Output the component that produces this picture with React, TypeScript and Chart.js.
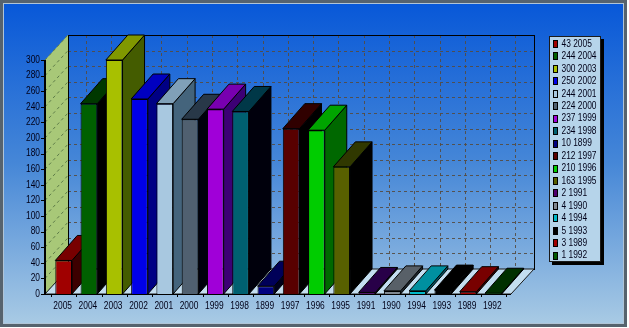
import React, { useEffect, useRef } from "react";
import { Chart, registerables } from "chart.js";

Chart.register(...registerables);

// ---- data ----
const categories = ["2005", "2004", "2003", "2002", "2001", "2000", "1999", "1998", "1899", "1997", "1996", "1995", "1991", "1990", "1994", "1993", "1989", "1992"];
const values = [43, 244, 300, 250, 244, 224, 237, 234, 10, 212, 210, 163, 2, 4, 4, 5, 3, 1];
const barColors = ["#a00000", "#006000", "#a8c000", "#0000e8", "#a8c8e0", "#506070", "#a000d8", "#006070", "#000080", "#580000", "#00cc00", "#586000", "#500070", "#808890", "#00b8c8", "#000000", "#a00000", "#005800"];
const yTicks = [0, 20, 40, 60, 80, 100, 120, 140, 160, 180, 200, 220, 240, 260, 280, 300];
const yMin = 0;
const yMax = 300;

// ---- style constants ----
const WDX = 23; // wall depth x
const WDY = -25; // wall depth y
const BDX = 22; // bar depth x
const BDY = -25; // bar depth y
const FONT = "10px 'Liberation Sans', Arial, sans-serif";
const SX = 0.84; // horizontal text compression
const TEXT = "#000018";

function shade(hex: string, amt: number): string {
  const n = parseInt(hex.slice(1), 16);
  const r = Math.max(0, ((n >> 16) & 255) - amt);
  const g = Math.max(0, ((n >> 8) & 255) - amt);
  const b = Math.max(0, (n & 255) - amt);
  return `rgb(${r},${g},${b})`;
}

function cText(ctx: CanvasRenderingContext2D, t: string, x: number, y: number, align: CanvasTextAlign) {
  ctx.save();
  ctx.translate(x, y);
  ctx.scale(SX, 1);
  ctx.textAlign = align;
  ctx.textBaseline = "middle";
  ctx.fillText(t, 0, 0);
  ctx.restore();
}

function poly(ctx: CanvasRenderingContext2D, pts: number[][], fill: string | null, stroke: string | null) {
  ctx.beginPath();
  ctx.moveTo(pts[0][0], pts[0][1]);
  for (let i = 1; i < pts.length; i++) ctx.lineTo(pts[i][0], pts[i][1]);
  ctx.closePath();
  if (fill) {
    ctx.fillStyle = fill;
    ctx.fill();
  }
  if (stroke) {
    ctx.strokeStyle = stroke;
    ctx.lineWidth = 1;
    ctx.stroke();
  }
}

const pseudo3d = {
  id: "pseudo3d",
  beforeDraw(chart: any) {
    const { ctx, width, height } = chart;
    ctx.save();
    ctx.fillStyle = "#ffffff";
    ctx.fillRect(0, 0, width, height);
    ctx.fillStyle = "#56636e";
    ctx.fillRect(0, 0, 627, 327);
    ctx.fillStyle = "#b0c4d6";
    ctx.fillRect(3, 3, 621, 321);
    const g = ctx.createLinearGradient(0, 4, 0, 323);
    g.addColorStop(0, "rgb(8,88,216)");
    g.addColorStop(0.5, "rgb(70,135,215)");
    g.addColorStop(1, "rgb(168,202,228)");
    ctx.fillStyle = g;
    ctx.fillRect(4, 4, 619, 319);
    ctx.restore();
  },
  beforeDatasetsDraw(chart: any) {
    const { ctx, chartArea } = chart;
    const xs = chart.scales.x;
    const ys = chart.scales.y;
    const fl = chartArea.left - 6;
    const fr = chartArea.right + 5;
    const fb = ys.getPixelForValue(yMin);
    const ft = ys.getPixelForValue(yMax);
    const bl = fl + WDX;
    const br = fr + WDX;
    const bb = fb + WDY;
    const bt = ft + WDY;
    ctx.save();

    // back wall grid
    ctx.setLineDash([3, 3]);
    ctx.strokeStyle = "rgba(85,75,65,0.9)";
    ctx.lineWidth = 1;
    for (const v of yTicks) {
      if (v >= yMax) continue;
      const py = Math.round(ys.getPixelForValue(v) + WDY) + 0.5;
      ctx.beginPath();
      ctx.moveTo(bl, py);
      ctx.lineTo(br, py);
      ctx.stroke();
    }
    for (let i = 0; i < categories.length; i++) {
      const px = Math.round(xs.getPixelForValue(i) + BDX) + 0.5;
      ctx.beginPath();
      ctx.moveTo(px, bt);
      ctx.lineTo(px, bb);
      ctx.stroke();
    }
    ctx.setLineDash([]);
    ctx.strokeStyle = "#000";
    ctx.strokeRect(Math.round(bl) + 0.5, Math.round(bt) + 0.5, Math.round(br - bl), Math.round(bb - bt));

    // left wall
    poly(ctx, [[fl, fb], [fl, ft], [bl, bt], [bl, bb]], "#a8c878", null);
    ctx.setLineDash([3, 3]);
    ctx.strokeStyle = "#5e7c48";
    for (const v of yTicks) {
      const py = ys.getPixelForValue(v);
      ctx.beginPath();
      ctx.moveTo(fl, py);
      ctx.lineTo(bl, py + WDY);
      ctx.stroke();
    }
    ctx.setLineDash([]);
    ctx.strokeStyle = "#000";
    ctx.beginPath();
    ctx.moveTo(Math.round(bl) + 0.5, bt);
    ctx.lineTo(Math.round(bl) + 0.5, bb);
    ctx.stroke();

    // floor
    poly(ctx, [[fl, fb], [fr, fb], [br, bb], [bl, bb]], "#c4def0", "#1a1a1a");

    // axes
    ctx.strokeStyle = "#000";
    ctx.lineWidth = 2;
    ctx.beginPath();
    ctx.moveTo(fl, ft);
    ctx.lineTo(fl, fb);
    ctx.stroke();
    ctx.lineWidth = 1;
    for (const v of yTicks) {
      const py = Math.round(ys.getPixelForValue(v)) + 0.5;
      ctx.beginPath();
      ctx.moveTo(fl - 4, py);
      ctx.lineTo(fl, py);
      ctx.stroke();
    }
    ctx.beginPath();
    ctx.moveTo(fl, Math.round(fb) + 0.5);
    ctx.lineTo(fr, Math.round(fb) + 0.5);
    ctx.stroke();
    const half = (xs.getPixelForValue(1) - xs.getPixelForValue(0)) / 2;
    for (let i = 0; i <= categories.length; i++) {
      const px = Math.round(xs.getPixelForValue(i) - half) + 0.5;
      ctx.beginPath();
      ctx.moveTo(px, fb);
      ctx.lineTo(px, fb + 3);
      ctx.stroke();
    }

    // bar sides and tops
    const meta = chart.getDatasetMeta(0);
    meta.data.forEach((el: any, i: number) => {
      const p = el.getProps(["x", "y", "base", "width"], true);
      const l = p.x - p.width / 2;
      const r = p.x + p.width / 2;
      const c = barColors[i];
      poly(ctx, [[r, p.y], [r + BDX, p.y + BDY], [r + BDX, p.base + BDY], [r, p.base]], shade(c, 100), "#000");
      poly(ctx, [[l, p.y], [r, p.y], [r + BDX, p.y + BDY], [l + BDX, p.y + BDY]], shade(c, 40), "#000");
    });
    ctx.restore();
  },
  afterDraw(chart: any) {
    const { ctx, chartArea } = chart;
    const xs = chart.scales.x;
    const ys = chart.scales.y;
    ctx.save();
    ctx.font = FONT;
    ctx.fillStyle = TEXT;
    for (const v of yTicks) {
      cText(ctx, String(v), chartArea.left - 11, ys.getPixelForValue(v), "right");
    }
    const fb = ys.getPixelForValue(yMin);
    categories.forEach((c, i) => {
      cText(ctx, c, xs.getPixelForValue(i) - 1, fb + 12, "center");
    });

    // legend
    const lx = 549, ly = 36, lw = 52, lh = 226;
    ctx.fillStyle = "#000";
    ctx.fillRect(lx + 3, ly + 3, lw, lh);
    ctx.fillStyle = "#b6d4ea";
    ctx.fillRect(lx, ly, lw, lh);
    ctx.strokeStyle = "#1a1a1a";
    ctx.lineWidth = 1;
    ctx.strokeRect(lx + 0.5, ly + 0.5, lw - 1, lh - 1);
    categories.forEach((c, i) => {
      const cy = ly + 8 + i * 12.45;
      ctx.fillStyle = barColors[i];
      ctx.fillRect(lx + 4.5, Math.round(cy - 4) + 0.5, 4, 7);
      ctx.strokeStyle = "#000";
      ctx.strokeRect(lx + 4.5, Math.round(cy - 4) + 0.5, 4, 7);
      ctx.fillStyle = TEXT;
      cText(ctx, `${values[i]} ${c}`, lx + 12.5, cy, "left");
    });
    ctx.restore();
  },
};

export default function App() {
  const ref = useRef<HTMLCanvasElement | null>(null);
  useEffect(() => {
    if (!ref.current) return;
    const chart = new Chart(ref.current, {
      type: "bar",
      data: {
        labels: categories,
        datasets: [
          {
            data: values,
            backgroundColor: barColors,
            borderColor: "#000",
            borderWidth: 1,
            barPercentage: 0.66,
            categoryPercentage: 1,
          },
        ],
      },
      options: {
        responsive: false,
        animation: false,
        devicePixelRatio: 1,
        layout: { padding: { left: 51, right: 123, top: 60, bottom: 34 } },
        plugins: { legend: { display: false }, tooltip: { enabled: false } },
        scales: {
          x: { display: false, offset: true, ticks: { autoSkip: false } },
          y: { display: false, min: yMin, max: yMax, ticks: { autoSkip: false, stepSize: 20 } },
        },
      },
      plugins: [pseudo3d],
    } as any);
    return () => chart.destroy();
  }, []);
  return (
    <div style={{ position: "fixed", left: 0, top: 0, width: 629, height: 328 }}>
      <canvas ref={ref} width={629} height={328} style={{ display: "block" }} />
    </div>
  );
}
